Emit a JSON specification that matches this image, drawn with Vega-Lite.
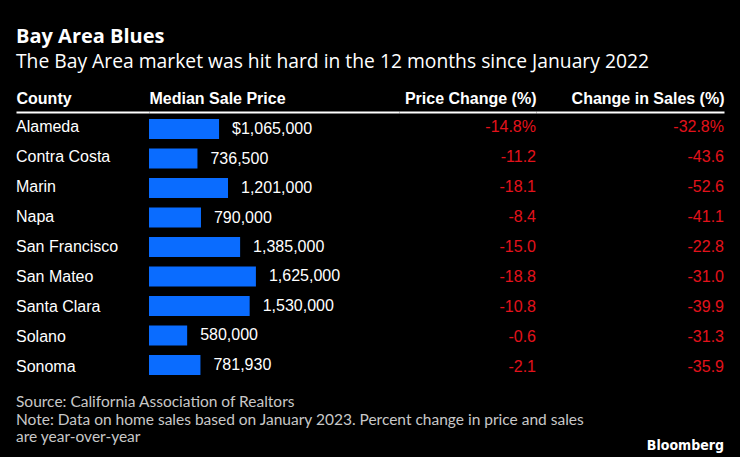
{
  "$schema": "https://vega.github.io/schema/vega-lite/v6.json",
  "background": "#000000",
  "padding": {"left": 16, "right": 16, "top": 26, "bottom": 4},
  "title": {
    "text": "Bay Area Blues",
    "subtitle": "The Bay Area market was hit hard in the 12 months since January 2022",
    "anchor": "start",
    "color": "#ffffff",
    "subtitleColor": "#ffffff",
    "font": "Open Sans",
    "subtitleFont": "Open Sans",
    "fontSize": 20,
    "fontWeight": "bold",
    "subtitleFontSize": 19.3,
    "subtitleFontWeight": "normal",
    "subtitlePadding": 6,
    "offset": 18
  },
  "datasets": {
    "counties": [
      {"County": "Alameda", "Price": 1065000, "PriceLabel": "$1,065,000", "PriceChange": -14.8, "PriceChangeLabel": "-14.8%", "SalesChange": -32.8, "SalesChangeLabel": "-32.8%"},
      {"County": "Contra Costa", "Price": 736500, "PriceLabel": "736,500", "PriceChange": -11.2, "PriceChangeLabel": "-11.2", "SalesChange": -43.6, "SalesChangeLabel": "-43.6"},
      {"County": "Marin", "Price": 1201000, "PriceLabel": "1,201,000", "PriceChange": -18.1, "PriceChangeLabel": "-18.1", "SalesChange": -52.6, "SalesChangeLabel": "-52.6"},
      {"County": "Napa", "Price": 790000, "PriceLabel": "790,000", "PriceChange": -8.4, "PriceChangeLabel": "-8.4", "SalesChange": -41.1, "SalesChangeLabel": "-41.1"},
      {"County": "San Francisco", "Price": 1385000, "PriceLabel": "1,385,000", "PriceChange": -15.0, "PriceChangeLabel": "-15.0", "SalesChange": -22.8, "SalesChangeLabel": "-22.8"},
      {"County": "San Mateo", "Price": 1625000, "PriceLabel": "1,625,000", "PriceChange": -18.8, "PriceChangeLabel": "-18.8", "SalesChange": -31.0, "SalesChangeLabel": "-31.0"},
      {"County": "Santa Clara", "Price": 1530000, "PriceLabel": "1,530,000", "PriceChange": -10.8, "PriceChangeLabel": "-10.8", "SalesChange": -39.9, "SalesChangeLabel": "-39.9"},
      {"County": "Solano", "Price": 580000, "PriceLabel": "580,000", "PriceChange": -0.6, "PriceChangeLabel": "-0.6", "SalesChange": -31.3, "SalesChangeLabel": "-31.3"},
      {"County": "Sonoma", "Price": 781930, "PriceLabel": "781,930", "PriceChange": -2.1, "PriceChangeLabel": "-2.1", "SalesChange": -35.9, "SalesChangeLabel": "-35.9"}
    ]
  },
  "config": {
    "view": {"stroke": null},
    "text": {"font": "Liberation Sans", "fontSize": 16, "baseline": "middle"},
    "axis": {
      "labels": false,
      "ticks": false,
      "grid": false,
      "domain": true,
      "domainColor": "#ffffff",
      "domainWidth": 2,
      "titleColor": "#ffffff",
      "titleFont": "Liberation Sans",
      "titleFontSize": 16,
      "titleFontWeight": "bold",
      "titlePadding": 6
    }
  },
  "spacing": 13,
  "vconcat": [
    {
      "spacing": 0,
      "hconcat": [
        {
          "data": {"name": "counties"},
          "width": 133,
          "height": 270,
          "mark": {"type": "text", "align": "left", "color": "#ffffff"},
          "encoding": {
            "x": {"datum": 0, "type": "quantitative", "scale": {"domain": [0, 1]}, "axis": {"orient": "top", "title": "County", "titleAnchor": "start", "titleAlign": "left"}},
            "y": {"field": "County", "type": "nominal", "sort": null, "axis": null, "scale": {"paddingInner": 0.32, "paddingOuter": 0.24}},
            "text": {"field": "County"}
          }
        },
        {
          "data": {"name": "counties"},
          "width": 250,
          "height": 270,
          "encoding": {
            "y": {"field": "County", "type": "nominal", "sort": null, "axis": null, "scale": {"paddingInner": 0.32, "paddingOuter": 0.24}},
            "x": {"field": "Price", "type": "quantitative", "scale": {"domain": [0, 3800000]}, "axis": {"orient": "top", "title": "Median Sale Price", "titleAnchor": "start", "titleAlign": "left"}}
          },
          "layer": [
            {"mark": {"type": "bar", "color": "#0a6cff"}},
            {"mark": {"type": "text", "align": "left", "dx": 13, "color": "#ffffff"}, "encoding": {"text": {"field": "PriceLabel"}}}
          ]
        },
        {
          "data": {"name": "counties"},
          "width": 137,
          "height": 270,
          "mark": {"type": "text", "align": "right", "color": "#e3121b"},
          "encoding": {
            "x": {"datum": 1, "type": "quantitative", "scale": {"domain": [0, 1]}, "axis": {"orient": "top", "title": "Price Change (%)", "titleAnchor": "end", "titleAlign": "right"}},
            "y": {"field": "County", "type": "nominal", "sort": null, "axis": null, "scale": {"paddingInner": 0.32, "paddingOuter": 0.24}},
            "text": {"field": "PriceChangeLabel"}
          }
        },
        {
          "data": {"name": "counties"},
          "width": 188,
          "height": 270,
          "mark": {"type": "text", "align": "right", "color": "#e3121b"},
          "encoding": {
            "x": {"datum": 1, "type": "quantitative", "scale": {"domain": [0, 1]}, "axis": {"orient": "top", "title": "Change in Sales (%)", "titleAnchor": "end", "titleAlign": "right"}},
            "y": {"field": "County", "type": "nominal", "sort": null, "axis": null, "scale": {"paddingInner": 0.32, "paddingOuter": 0.24}},
            "text": {"field": "SalesChangeLabel"}
          }
        }
      ]
    },
    {
      "width": 708,
      "height": 58,
      "data": {"values": [{"k": 1}]},
      "layer": [
        {
          "mark": {"type": "text", "align": "left", "baseline": "top", "font": "Lato", "fontSize": 15.5, "lineHeight": 17.5, "color": "#c8c8c8",
            "text": ["Source: California Association of Realtors", "Note: Data on home sales based on January 2023. Percent change in price and sales", "are year-over-year"]},
          "encoding": {
            "x": {"datum": 0, "type": "quantitative", "scale": {"domain": [0, 1]}, "axis": null},
            "y": {"datum": 1, "type": "quantitative", "scale": {"domain": [0, 1]}, "axis": null}
          }
        },
        {
          "mark": {"type": "text", "align": "right", "baseline": "bottom", "font": "DejaVu Sans Condensed", "fontWeight": "bold", "fontSize": 14, "color": "#ffffff", "text": "Bloomberg"},
          "encoding": {
            "x": {"datum": 1, "type": "quantitative", "scale": {"domain": [0, 1]}, "axis": null},
            "y": {"datum": 0, "type": "quantitative", "scale": {"domain": [0, 1]}, "axis": null}
          }
        }
      ]
    }
  ]
}
